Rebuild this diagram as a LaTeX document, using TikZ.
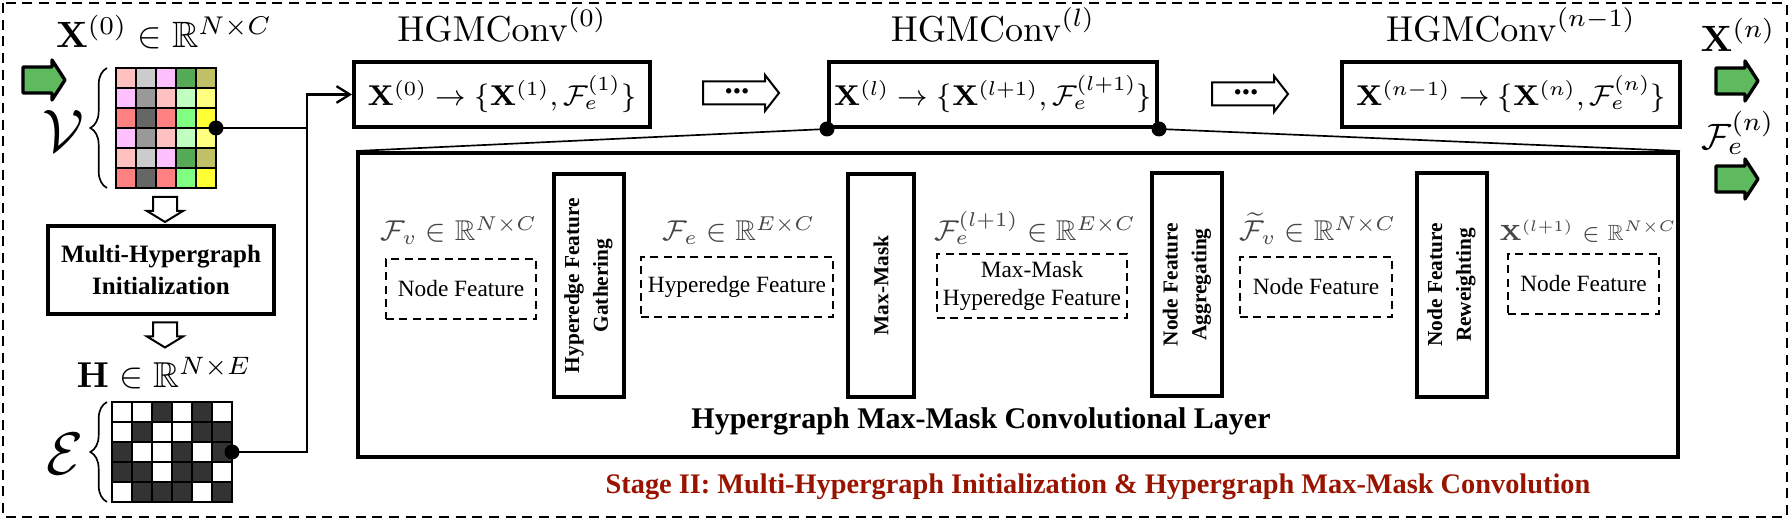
\RequirePackage{fix-cm}
\documentclass[tikz,border=0pt]{standalone}
\usepackage{amsmath,amssymb}
\usepackage[no-math]{fontspec}
\setmainfont{Liberation Serif}
\usetikzlibrary{arrows.meta,decorations.pathreplacing}

\definecolor{arrgreen}{RGB}{95,185,95}
\definecolor{stagered}{RGB}{153,20,0}
\definecolor{lblgrey}{RGB}{70,70,70}
\definecolor{vlr}{RGB}{255,192,192}
\definecolor{vlg}{RGB}{204,204,204}
\definecolor{vlm}{RGB}{255,192,255}
\definecolor{vgm}{RGB}{85,170,85}
\definecolor{vol}{RGB}{192,192,102}
\definecolor{vmg}{RGB}{153,153,153}
\definecolor{vlgr}{RGB}{192,255,192}
\definecolor{vly}{RGB}{255,255,128}
\definecolor{vrd}{RGB}{255,128,128}
\definecolor{vdg}{RGB}{102,102,102}
\definecolor{vbg}{RGB}{128,255,128}
\definecolor{vye}{RGB}{255,255,51}

\tikzset{
  greenarrow/.pic={\draw[line width=1pt, fill=arrgreen, line join=round] (-21,-13) -- (8,-13) -- (8,-20) -- (21,0) -- (8,20) -- (8,13) -- (-21,13) -- cycle;},
  dotsarrow/.pic={\draw[line width=0.6pt, fill=white] (-38,-11.5) -- (24,-11.5) -- (24,-18) -- (38,0) -- (24,18) -- (24,11.5) -- (-38,11.5) -- cycle;},
  downarrow/.pic={\draw[line width=0.6pt, fill=white] (-12,-12.5) -- (-12,1.5) -- (-18,1.5) -- (0,12.5) -- (18,1.5) -- (12,1.5) -- (12,-12.5) -- cycle;}
}

\begin{document}
\begin{tikzpicture}[x=0.3pt, y=-0.3pt, >={Straight Barb[length=4pt,width=5pt]},
  box/.style={draw, line width=1.2pt, inner sep=0pt},
  convbox/.style={box, minimum height=19.5pt, font=\fontsize{8.6}{10}\selectfont},
  convlbl/.style={font=\fontsize{10.8}{12}\selectfont, anchor=base, inner sep=0pt},
  stepbox/.style={box, rotate=90, minimum width=67pt, minimum height=21pt, align=center, font=\fontsize{6.4}{8.6}\selectfont\bfseries},
  featbox/.style={draw, dash pattern=on 2.4pt off 1.6pt, line width=0.6pt, minimum height=18pt, inner sep=0pt, align=center, font=\fontsize{7}{8.5}\selectfont},
  lbl/.style={font=\fontsize{8.6}{10}\selectfont, text=lblgrey, anchor=base, inner sep=0pt},
  dot/.style={circle, fill, inner sep=0pt, minimum size=4.5pt},
  conn/.style={line width=0.7pt},
  cell/.style={line width=0.75pt},
  brace/.style={decorate, decoration={brace, amplitude=5pt}, line width=0.5pt}]
\useasboundingbox (0,0) rectangle (1792,524);
\draw[line width=0.8pt, dash pattern=on 3pt off 2pt] (3,3) rectangle (1787,517);

% node features X^(0)
\node[font=\fontsize{11}{13}\selectfont] (xlbl) at (164,32) {$\mathbf{X}^{(0)}\in\mathbb{R}^{N\times C}$};
\pic at (44,80) {greenarrow};
\foreach \rowc [count=\j] in {{vlr,vlg,vlm,vgm,vol},{vlm,vmg,vlr,vlgr,vly},{vrd,vdg,vrd,vbg,vye},
    {vlm,vmg,vlr,vlgr,vly},{vlr,vlg,vlm,vgm,vol},{vrd,vdg,vrd,vbg,vye}}
  \foreach \c [count=\i] in \rowc
    \fill[fill=\c] ({96+20*\i},{48+20*\j}) rectangle ++(20,20);
\foreach \i in {1,...,4} \draw[cell] ({116+20*\i},68) -- ++(0,120);
\foreach \j in {1,...,5} \draw[cell] (116,{68+20*\j}) -- ++(100,0);
\draw[cell] (116,68) rectangle (216,188);
\node[dot] (vdot) at (216,128) {};
\draw[brace] (107,188) -- (107,68);
\node[font=\fontsize{18}{20}\selectfont] (vset) at (63,131) {$\mathcal{V}$};

% multi-hypergraph initialization
\pic at (165,209.5) {downarrow};
\node[box, minimum width=67.8pt, minimum height=26.4pt, align=center, font=\fontsize{7.5}{9.6}\selectfont\bfseries] (init) at (161,270) {Multi-Hypergraph\\Initialization};
\pic at (165,335) {downarrow};

% incidence matrix H
\node[font=\fontsize{10.8}{12}\selectfont] (hlbl) at (164,373) {$\mathbf{H}\in\mathbb{R}^{N\times E}$};
\foreach \i/\j in {3/1,5/1,2/2,5/2,6/2,1/3,4/3,6/3,1/4,2/4,4/4,5/4,2/5,3/5,4/5,6/5}
  \fill[black!80] ({92+20*\i},{382+20*\j}) rectangle ++(20,20);
\foreach \i in {1,...,5} \draw[cell] ({112+20*\i},402) -- ++(0,100);
\foreach \j in {1,...,4} \draw[cell] (112,{402+20*\j}) -- ++(120,0);
\draw[cell] (112,402) rectangle (232,502);
\node[dot] (hdot) at (232,452) {};
\draw[brace] (107,502) -- (107,402);
\node[font=\fontsize{18}{20}\selectfont] (eset) at (65,454) {$\mathcal{E}$};

% HGMConv blocks
\node[convbox, minimum width=88.8pt] (conv0) at (502,94.5) {$\mathbf{X}^{(0)}\rightarrow\{\mathbf{X}^{(1)},\mathcal{F}_e^{(1)}\}$};
\node[convlbl] (conv0lbl) at (502,42) {$\mathrm{HGMConv}^{(0)}$};
\pic at (741,93) {dotsarrow};
\node[font=\fontsize{10}{12}\selectfont\bfseries, inner sep=0pt] (dots0) at (737,91) {...};
\node[convbox, minimum width=98.4pt] (convl) at (993,94.5) {$\mathbf{X}^{(l)}\rightarrow\{\mathbf{X}^{(l+1)},\mathcal{F}_e^{(l+1)}\}$};
\node[convlbl] (convllbl) at (993,42) {$\mathrm{HGMConv}^{(l)}$};
\pic at (1250,94) {dotsarrow};
\node[font=\fontsize{10}{12}\selectfont\bfseries, inner sep=0pt] (dots1) at (1246,92) {...};
\node[convbox, minimum width=101.4pt] (convn) at (1511,94.5) {$\mathbf{X}^{(n-1)}\rightarrow\{\mathbf{X}^{(n)},\mathcal{F}_e^{(n)}\}$};
\node[convlbl] (convnlbl) at (1511,42) {$\mathrm{HGMConv}^{(n-1)}$};

% outputs
\node[font=\fontsize{11}{13}\selectfont] (xout) at (1738,35) {$\mathbf{X}^{(n)}$};
\pic at (1737,81) {greenarrow};
\node[font=\fontsize{11}{13}\selectfont] (fout) at (1738,133) {$\mathcal{F}_e^{(n)}$};
\pic at (1737,179) {greenarrow};

% inputs to the first block
\coordinate (jv) at (307,128);
\coordinate (jt) at (307,94.5);
\draw[conn] (vdot.center) -- (jv);
\draw[conn,->] (hdot.center) -| (jt) -- (conv0.west);

% zoom into HGMConv^(l)
\node[box, minimum width=396pt, minimum height=91.2pt] (layer) at (1018,305) {};
\node[dot] (ldot) at (convl.south west) {};
\node[dot] (rdot) at (convl.south east) {};
\draw[line width=0.5pt] (ldot.center) -- (layer.north west);
\draw[line width=0.5pt] (rdot.center) -- (layer.north east);

\node[lbl] (fvlbl) at (459,241) {$\mathcal{F}_v\in\mathbb{R}^{N\times C}$};
\node[featbox, minimum width=45pt] (nf1) at (461,289) {Node Feature};
\node[stepbox] (hfg) at (588.5,285.5) {Hyperedge Feature\\Gathering};
\node[lbl] (felbl) at (739,241) {$\mathcal{F}_e\in\mathbb{R}^{E\times C}$};
\node[featbox, minimum width=57.6pt] (hef) at (737,287) {Hyperedge Feature};
\node[stepbox, minimum height=20pt] (mm) at (881,285.5) {Max-Mask};
\node[lbl] (fmlbl) at (1035,241) {$\mathcal{F}_e^{(l+1)}\in\mathbb{R}^{E\times C}$};
\node[featbox, minimum width=57pt, minimum height=19pt] (mmhef) at (1032,286) {Max-Mask\\Hyperedge Feature};
\node[stepbox] (nfa) at (1187,284.5) {Node Feature\\Aggregating};
\node[lbl] (ftlbl) at (1318,241) {$\widetilde{\mathcal{F}}_v\in\mathbb{R}^{N\times C}$};
\node[featbox, minimum width=45.6pt] (nf3) at (1316,287) {Node Feature};
\node[stepbox] (nfr) at (1451.5,285) {Node Feature\\Reweighting};
\node[lbl, font=\fontsize{6.6}{8}\selectfont] (xllbl) at (1588,241) {$\mathbf{X}^{(l+1)}\in\mathbb{R}^{N\times C}$};
\node[featbox, minimum width=45.3pt] (nf4) at (1583.5,284) {Node Feature};
\node[font=\fontsize{9}{11}\selectfont\bfseries] (layerlbl) at (981,421) {Hypergraph Max-Mask Convolutional Layer};

\node[font=\fontsize{8.5}{10}\selectfont\bfseries, text=stagered] (stage) at (1098,487) {Stage II: Multi-Hypergraph Initialization \& Hypergraph Max-Mask Convolution};
\end{tikzpicture}
\end{document}
